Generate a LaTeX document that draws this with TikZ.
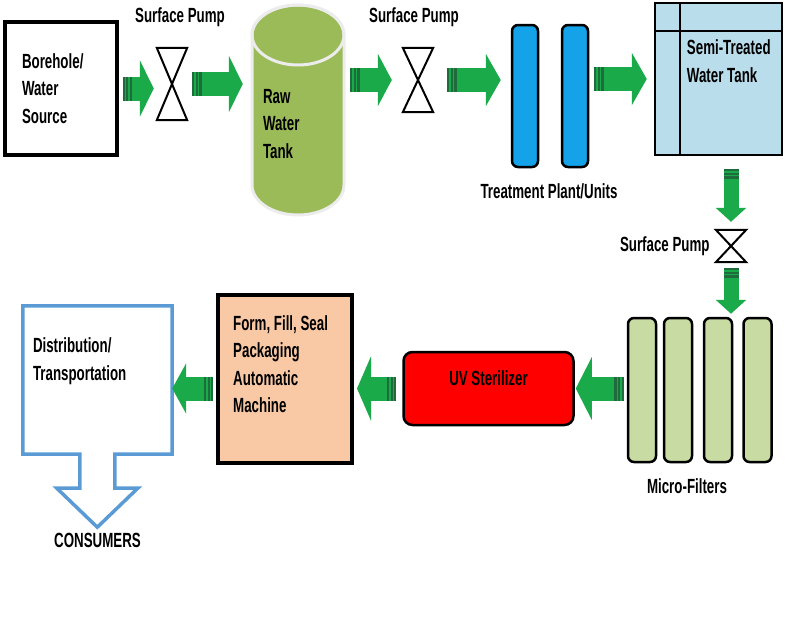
\documentclass[tikz,border=0pt]{standalone}
\usepackage{fontspec}
\setmainfont{Liberation Sans}[FakeStretch=0.65]
\usetikzlibrary{shapes,arrows.meta,positioning,backgrounds,calc}
\definecolor{flowgreen}{HTML}{1BAA4A}
\definecolor{flowdark}{HTML}{1E6B3C}
\definecolor{rawgreen}{HTML}{9BBB59}
\definecolor{plantblue}{HTML}{14A3E8}
\definecolor{semiblue}{HTML}{B9DDEA}
\definecolor{microgreen}{HTML}{C8DBA2}
\definecolor{uvred}{HTML}{FF0000}
\definecolor{formpeach}{HTML}{F9C9A6}
\definecolor{distblue}{HTML}{5B9BD5}

\begin{document}
\begin{tikzpicture}[
    x=1pt, y=-1pt,
    font=\fontsize{20.5}{27.5}\selectfont\bfseries,
    box/.style={rectangle, draw, line width=3.5pt, inner sep=0pt},
    txt/.style={align=left, inner sep=0pt},
    capsule/.style={rectangle, draw, line width=2.5pt, rounded corners=6pt, minimum width=26pt, minimum height=142pt},
    pump/.style={rectangle, inner sep=0pt, minimum width=30pt},
    pumpline/.style={line width=2pt, line join=miter},
    flow/.style={draw=flowgreen, line width=24pt, -{Triangle[length=14pt, width=56pt]},
        postaction={draw=flowdark, -, dash pattern=on 2pt off 1.5pt on 2pt off 1.5pt on 2.5pt off 2000pt}},
    flowdown/.style={flow, line width=15pt, -{Triangle[length=14pt, width=30pt]}}
]
    \useasboundingbox (0,0) rectangle (791,622);

    \node[box, minimum width=112pt, minimum height=133pt, text width=78pt, align=left] (bore) at (61,88.5) {Borehole/\\Water\\Source};
    \node[pump, minimum height=72pt] (pumpA) at (172,84) {};
    \node[txt] (pumpAlbl) at (180,17) {Surface Pump};
    \node[txt, minimum width=92pt, text width=70pt] (raw) at (298,124) {Raw\\Water\\Tank};
    \node[pump, minimum height=64pt] (pumpB) at (418,80) {};
    \node[txt] (pumpBlbl) at (414,17) {Surface Pump};
    \node[capsule, fill=plantblue] (plantA) at (525,96) {};
    \node[capsule, fill=plantblue] (plantB) at (575,96) {};
    \node[txt] (plantlbl) at (549,191) {Treatment Plant/Units};
    \node[box, line width=2.5pt, fill=semiblue, minimum width=127pt, minimum height=152pt] (semi) at (718.5,79) {};
    \node[txt, below right=38pt and 33pt of semi.north west] (semitxt) {Semi-Treated\\Water Tank};
    \node[pump, minimum height=32pt] (pumpC) at (731,246) {};
    \node[txt, left=6pt of pumpC] (pumpClbl) {Surface Pump};
    \foreach \i/\x in {1/642,2/678,3/718,4/757.5}
        \node[capsule, fill=microgreen, minimum width=28pt, minimum height=144pt] (micro\i) at (\x,390) {};
    \node[txt] (microlbl) at (687,486) {Micro-Filters};
    \node[box, line width=2.5pt, fill=uvred, rounded corners=9pt, minimum width=170pt, minimum height=73pt, text depth=20pt] (uv) at (488.5,388.5) {UV Sterilizer};
    \node[box, line width=4pt, fill=formpeach, minimum width=134pt, minimum height=168pt] (form) at (285,379) {};
    \node[txt, below right=22pt and 17pt of form.north west] (formtxt) {Form, Fill, Seal\\Packaging\\Automatic\\Machine};
    \node[minimum width=149pt, minimum height=148pt] (dist) at (97.5,380) {};
    \node[txt, below right=32pt and 10pt of dist.north west] (disttxt) {Distribution/\\Transportation};
    \node[txt] (consumers) at (97.5,540) {CONSUMERS};

    \begin{scope}[on background layer]
        \filldraw[fill=rawgreen, draw=white!85!gray, line width=3pt] ($(raw.center)+(-46,-89)$) -- ++(0,150) arc[start angle=180, end angle=0, x radius=46, y radius=30] -- ++(0,-150) arc[start angle=0, end angle=-180, x radius=46, y radius=30] -- cycle;
        \draw[white!85!gray, line width=3pt] ($(raw.center)+(0,-89)$) ellipse[x radius=46, y radius=30];
    \end{scope}

    \foreach \p in {pumpA,pumpB,pumpC}
        \draw[pumpline] (\p.north west) -- (\p.north east) -- (\p.south west) -- (\p.south east) -- cycle;
    \draw[line width=2.5pt] ([xshift=26pt]semi.north west) -- ([xshift=26pt]semi.south west);
    \draw[line width=2.5pt] ([yshift=-29pt]semi.north west) -- ([yshift=-29pt]semi.north east);
    \draw[distblue, line width=3.5pt] (dist.south east) -- (dist.north east) -- (dist.north west) -- (dist.south west) -- ++(57,0) -- ++(0,34) -- ++(-23,0) -- ++(40.5,39) -- ++(40.5,-39) -- ++(-23,0) -- ++(0,-34) -- cycle;

    \draw[flow, shorten <=4pt, shorten >=3pt] (bore.east) -- (bore.east -| pumpA.west);
    \draw[flow, shorten <=5pt, shorten >=9pt] (pumpA.east) -- (pumpA.east -| raw.west);
    \draw[flow, shorten <=6pt, shorten >=11pt, -{Triangle[length=14pt, width=52pt]}] (raw.east |- pumpB) -- (pumpB.west);
    \draw[flow, shorten <=14pt, shorten >=10pt, -{Triangle[length=15pt, width=52pt]}] (pumpB.east) -- (pumpB.east -| plantA.west);
    \draw[flow, shorten <=5pt, shorten >=7pt, -{Triangle[length=15pt, width=52pt]}] (plantB.east |- semi) -- (semi.west);
    \draw[flowdown, shorten <=13pt, shorten >=8pt] (semi.south -| pumpC) -- (pumpC.north);
    \draw[flowdown, shorten <=6pt, shorten >=3pt] (pumpC.south) -- (pumpC.south |- micro4.north);
    \draw[flow, shorten <=3pt, shorten >=1pt, -{Triangle[length=16pt, width=62pt]}] (micro1.west |- uv) -- (uv.east);
    \draw[flow, shorten <=6pt, shorten >=3pt, -{Triangle[length=14pt, width=64pt]}] (uv.west) -- (uv.west -| form.east);
    \draw[flow, shorten <=3pt, shorten >=0pt, -{Triangle[length=14pt, width=50pt]}] (form.west |- uv) -- (dist.east |- uv);
\end{tikzpicture}
\end{document}
